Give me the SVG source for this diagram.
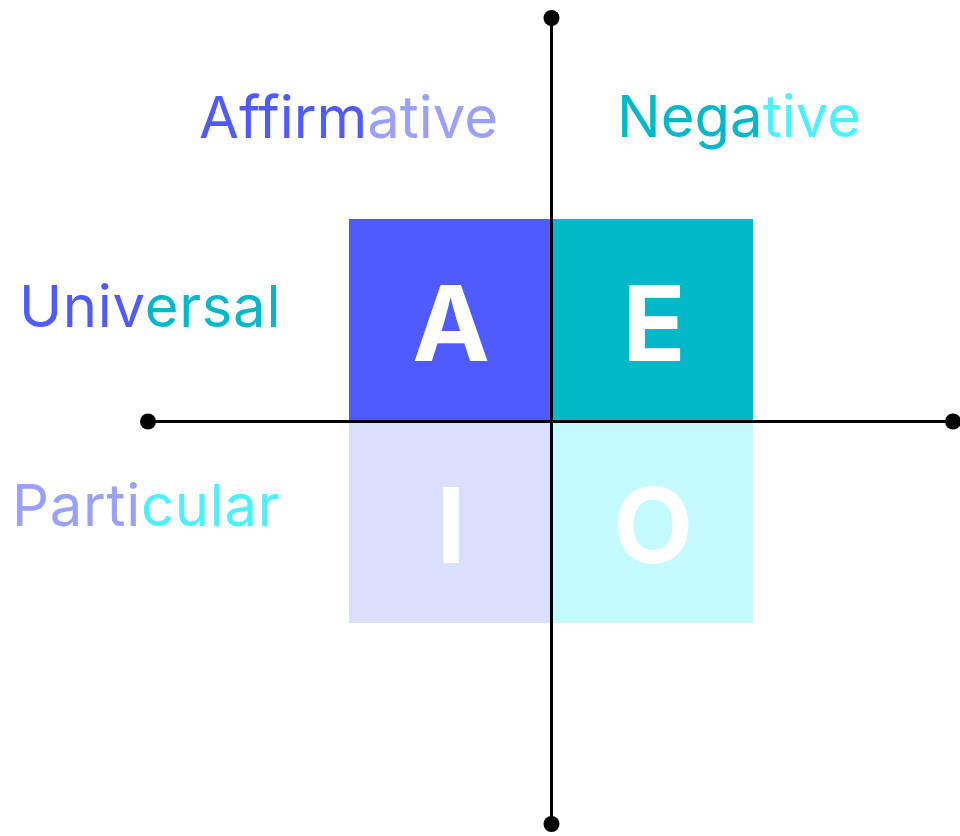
<svg xmlns="http://www.w3.org/2000/svg" width="960" height="836" viewBox="0 0 960 836">
<style>
.lbl{font-family:Inter,"Liberation Sans",sans-serif;font-weight:400;font-size:58px}
.wide{letter-spacing:0.7px}
.big{font-family:Inter,"Liberation Sans",sans-serif;font-weight:700;font-size:104px;fill:#fff;text-anchor:middle}
.axis{stroke:#000;stroke-width:3}
.blue{fill:#4F5BFF}.lblue{fill:#99A0FF}.teal{fill:#00B8C8}.cyan{fill:#4DF0FF}
</style>
<rect width="960" height="836" fill="#fff"/>
<g id="A"><rect x="349" y="219" width="202.5" height="202" fill="#4F5BFF"/><text class="big" x="451" y="361">A</text></g>
<g id="E"><rect x="551.5" y="219" width="201.5" height="202" fill="#00B8C8"/><text class="big" x="654" y="361">E</text></g>
<g id="I"><rect x="349" y="421" width="202.5" height="202" fill="#DADEFF"/><text class="big" x="451" y="563">I</text></g>
<g id="O"><rect x="551.5" y="421" width="201.5" height="202" fill="#C2FAFE"/><text class="big" x="653" y="563">O</text></g>
<g id="connectors">
<line class="axis" x1="551.5" y1="18" x2="551.5" y2="824"/>
<line class="axis" x1="148" y1="421.5" x2="953" y2="421.5"/>
<circle cx="551.5" cy="18" r="8"/><circle cx="551.5" cy="824" r="8"/>
<circle cx="148" cy="421.5" r="8"/><circle cx="953" cy="421.5" r="8"/>
</g>
<g id="affirmative"><text class="lbl" x="199" y="138"><tspan class="blue">Affirm</tspan><tspan class="lblue">ative</tspan></text></g>
<g id="negative"><text class="lbl" x="617" y="137"><tspan class="teal">Nega</tspan><tspan class="cyan">tive</tspan></text></g>
<g id="universal"><text class="lbl wide" x="19" y="327"><tspan class="blue">Univ</tspan><tspan class="teal">ersal</tspan></text></g>
<g id="particular"><text class="lbl wide" x="12" y="526"><tspan class="lblue">Parti</tspan><tspan class="cyan">cular</tspan></text></g>
</svg>
